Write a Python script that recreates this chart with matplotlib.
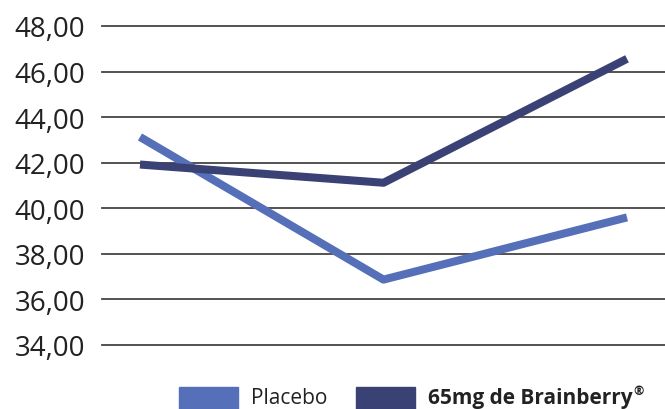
import matplotlib
matplotlib.use("Agg")
import matplotlib.pyplot as plt
from matplotlib.patches import Rectangle

# Data
timepoints = ["T0", "T1", "T2"]
placebo = [43.13, 36.87, 39.60]
brainberry = [41.92, 41.12, 46.56]
series_labels = ["Placebo", "65mg de Brainberry"]
yticks = [34, 36, 38, 40, 42, 44, 46, 48]

light = "#5570B8"
dark = "#3A4275"
grid_col = "#444444"

plt.rcParams["font.family"] = ["Open Sans", "DejaVu Sans"]

W, H = 665, 410
fig = plt.figure(figsize=(W / 100, H / 100), dpi=100)
ax = fig.add_axes([102 / W, (H - 346) / H, 1 - 102 / W, (346 - 27) / H])

x = range(len(timepoints))
ax.plot(x, placebo, color=light, lw=5.8, solid_capstyle="butt", zorder=3)
ax.plot(x, brainberry, color=dark, lw=5.8, solid_capstyle="butt", zorder=4)

ax.set_xlim(-0.156, 2.156)
ax.set_ylim(34, 48)
ax.set_yticks(yticks)
ax.set_yticklabels([f"{v:.2f}".replace(".", ",") for v in yticks])
for v in yticks:
    ax.axhline(v, color=grid_col, lw=1.3, zorder=1, clip_on=False)
ax.set_xticks([])
for s in ax.spines.values():
    s.set_visible(False)
ax.tick_params(axis="y", length=0, pad=12, labelsize=20, labelcolor="#222222")

# Legend drawn at the bottom edge
base = 6 / H


def legend_item(x0, label, color, bold):
    fig.patches.append(Rectangle((x0 / W, 0), 59 / W, 22 / H,
                                 transform=fig.transFigure, color=color))
    return fig.text((x0 + 72) / W, base, label, fontsize=15,
                    fontweight="bold" if bold else "normal",
                    color="#222222", va="baseline", ha="left")


legend_item(179, series_labels[0], light, False)
t = legend_item(356, series_labels[1], dark, True)

# registered mark as a superscript after the bold label
fig.canvas.draw()
bb = t.get_window_extent()
fig.text(bb.x1 / W + 1 / W, base + 9 / H, "®", fontsize=9, fontweight="bold",
         color="#222222", va="baseline", ha="left")

fig.savefig("out.png", dpi=100)
